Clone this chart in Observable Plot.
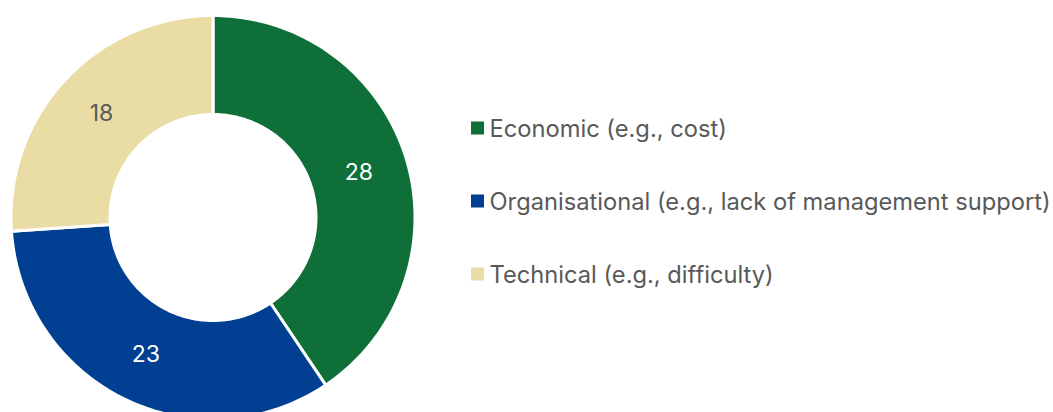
<!DOCTYPE html>
<html>
<head>
<meta charset="utf-8">
<script src="https://cdn.jsdelivr.net/npm/d3@7"></script>
<script src="https://cdn.jsdelivr.net/npm/@observablehq/plot@0.6"></script>
<style>
  html, body { margin: 0; padding: 0; background: #fff; }
  #chart svg { display: block; }
</style>
</head>
<body>
<div id="chart"></div>
<script>
const categories = ["Economic (e.g., cost)", "Organisational (e.g., lack of management support)", "Technical (e.g., difficulty)"];
const values = [28, 23, 18];
const colors = ["#0e7038", "#003f91", "#e9dca4"];
const labelColors = ["#ffffff", "#ffffff", "#595959"];

const W = 1053, H = 412;
const cx = 212.5, cy = 217, R = 202, r = 103;
const font = "Inter, 'Open Sans', sans-serif";

const arcs = d3.pie().sort(null)(values);
const pt = (rad, a) => [cx + rad * Math.sin(a), cy - rad * Math.cos(a)];

const poly = [];
arcs.forEach((a, i) => {
  const n = 120;
  for (let k = 0; k <= n; k++) {
    const t = a.startAngle + (a.endAngle - a.startAngle) * k / n;
    const [x, y] = pt(R, t);
    poly.push({cat: categories[i], color: colors[i], x, y});
  }
  for (let k = n; k >= 0; k--) {
    const t = a.startAngle + (a.endAngle - a.startAngle) * k / n;
    const [x, y] = pt(r, t);
    poly.push({cat: categories[i], color: colors[i], x, y});
  }
});

const labels = arcs.map((a, i) => {
  const [x, y] = pt((R + r) / 2, (a.startAngle + a.endAngle) / 2);
  return {x, y, text: String(values[i]), color: labelColors[i]};
});

const legX = 471, legY0 = 128, legStep = 73, sq = 13;
const legend = categories.map((c, i) => ({
  cat: c, color: colors[i],
  x1: legX, x2: legX + sq,
  y1: legY0 + i * legStep - sq / 2, y2: legY0 + i * legStep + sq / 2,
  tx: legX + sq + 5, ty: legY0 + i * legStep + 1
}));

const chart = Plot.plot({
  width: W, height: H,
  margin: 0,
  x: {domain: [0, W], range: [0, W], axis: null},
  y: {domain: [0, H], range: [0, H], axis: null},
  color: {type: "identity"},
  style: {fontFamily: font, background: "#fff"},
  marks: [
    Plot.line(poly, {x: "x", y: "y", z: "cat", fill: "color", stroke: "#fff", strokeWidth: 3, curve: "linear-closed"}),
    Plot.text(labels, {x: "x", y: "y", text: "text", fill: "color", fontSize: 23}),
    Plot.rect(legend, {x1: "x1", x2: "x2", y1: "y1", y2: "y2", fill: "color"}),
    Plot.text(legend, {x: "tx", y: "ty", text: "cat", fill: "#595959", fontSize: 23.7, textAnchor: "start"})
  ]
});
document.getElementById("chart").appendChild(chart);
</script>
</body>
</html>
